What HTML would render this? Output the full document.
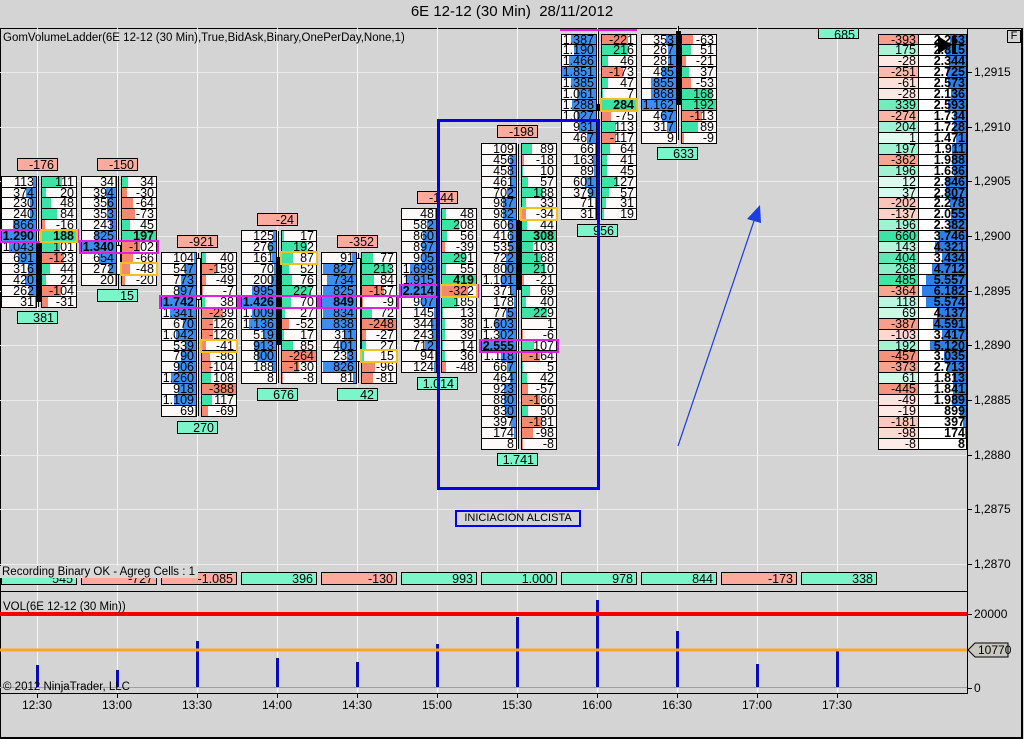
<!DOCTYPE html>
<html><head><meta charset="utf-8"><style>
*{margin:0;padding:0;box-sizing:border-box}
body{width:1024px;height:739px;background:#d4d4d4;position:relative;overflow:hidden;font-family:"Liberation Sans",Arial,sans-serif;font-size:12px;color:#000}
.a{position:absolute}
.c{position:absolute;border:1px solid #000;background:#fffafa;height:12px;overflow:hidden}
.c span{position:absolute;right:2px;top:-2px;font-size:12.5px;line-height:14px}
.c i{position:absolute;top:0;bottom:0}
.b{font-weight:bold}
.box{position:absolute;border:1px solid #000;height:13px;font-size:12.5px;line-height:12px;text-align:right;padding-right:3px}
.g{background:#7df5cb}.r{background:#fbab9c}
.vl{position:absolute;width:1px;background:#f4f4f4}
.hl{position:absolute;height:1px;background:#ececec}
.lbl{position:absolute;font-size:12px}
</style></head><body>
<div class="a" style="left:0;top:3px;width:1024px;text-align:center;font-size:15px">6E 12-12 (30 Min)&nbsp; 28/11/2012</div>
<div class="a" style="left:0;top:28px;width:1023px;height:711px;border:1px solid #000;border-right-width:2px;border-bottom-width:2px"></div>
<div class="a" style="left:967px;top:28px;width:1px;height:666px;background:#000"></div>
<div class="a" style="left:0;top:591px;width:968px;height:1px;background:#000"></div>
<div class="a" style="left:0;top:693px;width:968px;height:1px;background:#000"></div>
<div class="a" style="left:1007px;top:30px;width:14px;height:13px;border:1px solid #000;font-size:11px;text-align:center;line-height:11px">F</div>
<div id="root"></div>
<div class="lbl" style="left:3px;top:32px;font-size:11.5px">GomVolumeLadder(6E 12-12 (30 Min),True,BidAsk,Binary,OnePerDay,None,1)</div>
<div class="a" style="left:437px;top:119px;width:163px;height:371px;border:3px solid #0000ee"></div>
<div class="a" style="left:455px;top:510px;width:126px;height:17px;border:2px solid #0000ee;font-size:11px;text-align:center;line-height:13px">INICIACIÓN ALCISTA</div>
<svg class="a" style="left:0;top:0" width="1024" height="739">
<line x1="678" y1="446" x2="757" y2="212" stroke="#1a3ee0" stroke-width="1.2"/>
<polygon points="760,205 747,219 761,223" fill="#1a3ee0"/>
<line x1="0" y1="614" x2="967" y2="614" stroke="#f00000" stroke-width="4"/>
<line x1="0" y1="650" x2="967" y2="650" stroke="#f8a820" stroke-width="3"/>
<polygon points="968,650 975,643 1008,643 1008,657 975,657" fill="#c8c8c0" stroke="#000"/>
</svg>
<div class="lbl" style="left:978px;top:643px">10770</div>
<div class="lbl" style="left:3px;top:601px;font-size:11.5px">VOL(6E 12-12 (30 Min))</div>
<div class="lbl" style="left:3px;top:681px;font-size:11.5px">© 2012 NinjaTrader, LLC</div>
<div class="lbl" style="left:0;top:566px;background:#d8d8d8;padding:0 3px 0 2px;font-size:11.5px;z-index:5">Recording Binary OK - Agreg Cells : 1</div>
<script>
var R=document.getElementById('root'),H='';
function add(s){H+=s}
var RH=10.93;function cy(k){return 39+k*RH}
for(var i=0;i<11;i++){var x=37+80*i;add('<div class="vl" style="left:'+x+'px;top:28px;height:563px"></div><div class="vl" style="left:'+x+'px;top:592px;height:101px"></div><div class="a" style="left:'+x+'px;top:693px;width:1px;height:5px;background:#000"></div>');
var t=['12:30','13:00','13:30','14:00','14:30','15:00','15:30','16:00','16:30','17:00','17:30'][i];add('<div class="lbl" style="left:'+(x-16)+'px;top:698px;width:32px;text-align:center">'+t+'</div>');}
var pl=['1,2915','1,2910','1,2905','1,2900','1,2895','1,2890','1,2885','1,2880','1,2875','1,2870'];
for(var j=0;j<10;j++){var y=72+j*54.65;add('<div class="hl" style="left:0;top:'+Math.round(y)+'px;width:967px"></div><div class="a" style="left:967px;top:'+Math.round(y)+'px;width:5px;height:1px;background:#000"></div><div class="lbl" style="left:974px;top:'+Math.round(y-7)+'px">'+pl[j]+'</div>');}
[[614,'20000'],[688,'0']].forEach(function(v){add('<div class="a" style="left:967px;top:'+v[0]+'px;width:5px;height:1px;background:#000"></div><div class="lbl" style="left:974px;top:'+(v[0]-7)+'px">'+v[1]+'</div>')});
add('<div class="a" style="left:0;top:687px;width:967px;height:1px;background:#a0a0a0"></div>');
[665,670,641,658,662,644,617,600,631,664,649].forEach(function(t,i){add('<div class="a" style="left:'+(36+80*i)+'px;top:'+t+'px;width:3px;height:'+(687-t)+'px;background:#0a0ab4"></div>')});
function num(s){return parseFloat(String(s).replace('.',''))}
var bars=[
{k:13,h:'-176',f:'381',L:['113','374','230','240','866','1.290','1.043','691','316','420','262','31'],D:['111','20','48','84','-16','188','101','-123','44','24','-104','-31'],p:5,y:5,bd:5,cd:[181,302,243,302,'#000']},
{k:13,h:'-150',f:'15',L:['34','394','356','353','243','825','1.340','654','272','20'],D:['34','-30','-64','-73','45','197','-102','-66','-48','-20'],p:6,y:8,bd:5,cd:[181,296,245,275,'#fff']},
{k:20,h:'-921',f:'270',L:['104','547','773','897','1.742','1.341','670','1.042','539','790','906','1.260','918','1.109','69'],D:['40','-159','-49','-7','38','-239','-126','-126','-41','-86','-104','108','-388','117','-69'],p:4,y:8,bd:-1,cd:[258,411,258,300,'#fff']},
{k:18,h:'-24',f:'676',L:['125','276','161','70','200','995','1.426','1.009','1.136','519','913','800','188','8'],D:['17','192','87','52','76','227','70','27','-52','17','85','-264','-130','-8'],p:6,y:2,bd:-1,cd:[236,378,257,345,'#000']},
{k:20,h:'-352',f:'42',L:['91','827','734','825','849','834','838','311','401','233','826','81'],D:['77','213','84','-157','-9','72','-248','-27','27','15','-96','-81'],p:4,y:9,bd:-1,cd:[258,378,258,362,'#fff']},
{k:16,h:'-144',f:'1.014',L:['48','582','860','897','905','1.699','1.915','2.214','907','145','344','243','712','94','124'],D:['48','208','56','-39','291','55','419','-322','185','13','38','39','14','36','-48'],p:7,y:7,bd:6,cd:null},
{k:10,h:'-198',f:'1.741',L:['109','456','458','461','702','987','982','606','416','535','722','800','1.101','371','178','775','1.603','1.302','2.555','1.118','667','464','923','880','830','397','174','8'],D:['89','-18','10','57','188','33','-34','44','308','103','168','210','-21','69','40','229','1','-6','107','-164','5','42','-57','-166','50','-181','-98','-8'],p:18,y:6,bd:8,cd:[149,444,220,290,'#000']},
{k:0,h:null,f:'956',L:['1.387','1.190','1.466','1.851','1.385','1.061','1.288','1.027','931','467','66','163','89','601','379','71','31'],D:['-221','216','46','-173','47','7','284','-75','113','-117','64','41','45','127','57','31','19'],p:-1,y:6,bd:6,cd:[33,214,104,111,'#000']},
{k:0,h:null,f:'633',L:['353','267','281','485','855','868','1.162','467','317','9'],D:['-63','51','-21','37','-53','168','192','-113','89','-9'],p:-1,y:-1,bd:-1,cd:[31,135,31,105,'#000']}
];
bars.forEach(function(b,i){
 var x0=80*i+1,x1=80*i+41,w=36;
 var mL=Math.max.apply(null,b.L.map(num)),mD=Math.max.apply(null,b.D.map(function(s){return Math.abs(num(s))}));
 if(b.cd){var c=b.cd;add('<div class="a" style="left:'+(x0+37)+'px;top:'+(c[0]-5)+'px;width:1px;height:'+(c[1]-c[0]+10)+'px;background:#000"></div><div class="a" style="left:'+(x0+35)+'px;top:'+c[2]+'px;width:5px;height:'+(c[3]-c[2])+'px;background:'+c[4]+';border:1px solid #000"></div>');}
 b.L.forEach(function(v,r){
  var y=Math.round(cy(b.k+r)-5.5),fw=Math.round(num(v)/mL*(w-2)),bold=(r==b.p)?' b':'';
  add('<div class="c" style="left:'+x0+'px;top:'+y+'px;width:'+w+'px"><i style="right:0;width:'+fw+'px;background:#3d8ef0"></i><span class="'+bold+'">'+v+'</span></div>');
  var d=num(b.D[r]),dw=Math.round(Math.abs(d)/mD*(w-2)),col=d>=0?'#3de3a4':'#f58870';
  add('<div class="c" style="left:'+x1+'px;top:'+y+'px;width:'+w+'px"><i style="left:0;width:'+dw+'px;background:'+col+'"></i><span class="'+((r==b.bd)?'b':'')+'">'+b.D[r]+'</span></div>');
 });
 if(b.p>=0){var y=Math.round(cy(b.k+b.p)-6.5);add('<div class="a" style="left:'+(x0-2)+'px;top:'+y+'px;width:'+(80)+'px;height:14px;border:2px solid #e020e0"></div>');}
 if(i==7)add('<div class="a" style="left:560px;top:29px;width:77px;height:2px;background:#e020e0"></div>');
 if(b.y>=0){var y=Math.round(cy(b.k+b.y)-6.5);add('<div class="a" style="left:'+(x1-1)+'px;top:'+y+'px;width:'+(w+2)+'px;height:14px;border:2px solid #f0c020"></div>');}
 if(b.h)add('<div class="box r" style="left:'+(80*i+17)+'px;top:'+Math.round(cy(b.k)-23)+'px;width:41px">'+b.h+'</div>');
 add('<div class="box g" style="left:'+(80*i+17)+'px;top:'+Math.round(cy(b.k+b.L.length-1)+10)+'px;width:41px">'+b.f+'</div>');
});
add('<div class="box g" style="left:818px;top:28px;width:41px;height:11px">685</div>');
['545','-727','-1.085','396','-130','993','1.000','978','844','-173','338'].forEach(function(v,i){add('<div class="box '+(v[0]=='-'?'r':'g')+'" style="left:'+(80*i+1)+'px;top:572px;width:76px">'+v+'</div>')});
var LL=['-393','175','-28','-251','-61','-28','339','-274','204','1','197','-362','196','12','37','-202','-137','196','660','143','404','268','485','-364','118','69','-387','-103','192','-457','-373','61','-445','-49','-19','-181','-98','-8'];
var LR=['2.263','2.815','2.344','2.725','2.573','2.136','2.593','1.734','1.728','1.471','1.911','1.988','1.686','2.846','2.807','2.278','2.055','2.382','3.746','4.321','3.434','4.712','5.557','6.182','5.574','4.137','4.591','3.417','5.120','3.035','2.713','1.813','1.841','1.989','899','397','174','8'];
LL.forEach(function(v,r){var y=Math.round(cy(r)-5.5),d=num(v),a=Math.min(1,Math.abs(d)/500);
 var bg=d>=0?'rgba(61,227,164,'+(0.15+a*0.85)+')':'rgba(245,136,112,'+(0.15+a*0.85)+')';
 var wv=Math.round(num(LR[r])/6182*44);
 add('<div class="c" style="left:878px;top:'+y+'px;width:41px;background:#fff"><i style="left:0;right:0;background:'+bg+'"></i><span>'+v+'</span></div>');
 add('<div class="c" style="left:918px;top:'+y+'px;width:49px;background:#fff"><i style="right:0;width:'+wv+'px;background:#2e7fe8"></i><span class="b" style="right:1px">'+LR[r]+'</span></div>');
});
add('<svg class="a" style="left:936px;top:34px" width="30" height="24"><polygon points="2,2 2,20 16,11" fill="#000"/><rect x="16" y="2" width="4" height="18" fill="#000"/></svg>');
R.innerHTML=H;
</script>
</body></html>
